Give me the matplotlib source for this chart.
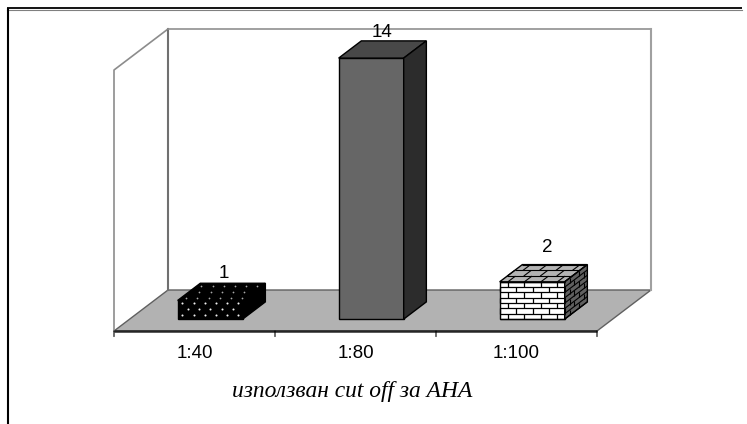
import matplotlib
matplotlib.use('Agg')
import matplotlib.pyplot as plt
from matplotlib.patches import Polygon

categories = ['1:40', '1:80', '1:100']
values = [1, 14, 2]
value_labels = ['1', '14', '2']
axis_title = 'използван cut off за АНА'
y_max = 14

W, H = 747, 424
fig = plt.figure(figsize=(W / 100, H / 100), dpi=100)

# frame of the whole chart: only top and left are there
bg = fig.add_axes([0, 0, 1, 1])
bg.set_xlim(0, W)
bg.set_ylim(H, 0)
bg.axis('off')
bg.plot([7, 742], [9.5, 9.5], color='#808080', lw=0.8)
bg.plot([7.5, 7.5], [8, H], color='black', lw=1.5, solid_capstyle='butt')
bg.plot([7, 742], [8.3, 8.3], color='black', lw=1.3, solid_capstyle='butt')

# plot area: x in categories, y in values, front edge of the floor at y=0
x0, x1, y0, y1 = 114, 597, 331, 70
ax = fig.add_axes([x0 / W, 1 - y0 / H, (x1 - x0) / W, (y0 - y1) / H])
ax.set_xlim(0, len(categories))
ax.set_ylim(0, y_max)
ax.axis('off')

# oblique projection of the depth axis, in data units
dx = 54 / ((x1 - x0) / len(categories))
dy = 41 / ((y0 - y1) / y_max)
px_x = (x1 - x0) / len(categories)
px_y = (y0 - y1) / y_max


def proj(x, v, d):
    return x + d * dx, v + d * dy


def quad(pts, **kw):
    p = Polygon([proj(*q) for q in pts], closed=True, clip_on=False, **kw)
    ax.add_patch(p)
    return p


n = len(categories)
quad([(0, 0, 0), (0, 0, 1), (n, 0, 1), (n, 0, 0)], fc='#b2b2b2', ec='#606060', lw=1)
# walls
ax.plot(*zip(*[proj(0, 0, 0), proj(0, y_max, 0), proj(0, y_max, 1)]),
        color='#8c8c8c', lw=1.2, clip_on=False)
ax.plot(*zip(*[proj(0, 0, 1), proj(0, y_max, 1)]), color='#707070', lw=1.5, clip_on=False)
ax.plot(*zip(*[proj(0, y_max, 1), proj(n, y_max, 1)]), color='#909090', lw=1.2, clip_on=False)
ax.plot(*zip(*[proj(n, y_max, 1), proj(n, 0, 1)]), color='#a0a0a0', lw=1.5, clip_on=False)

# category axis
ax.plot([0, n], [0, 0], color='#262626', lw=1.8, clip_on=False, solid_capstyle='butt')
for i in range(n + 1):
    ax.annotate('', xy=(i, 0), xytext=(0, -4), textcoords='offset points', annotation_clip=False,
                arrowprops=dict(arrowstyle='-', color='black', lw=0.8, shrinkA=0, shrinkB=0))
for i, c in enumerate(categories):
    ax.annotate(c, xy=(i + 0.5, 0), xytext=(0, -23), textcoords='offset pixels',
                annotation_clip=False, ha='center', va='center',
                family='Liberation Sans', fontsize=13.5, color='black')
ax.annotate(axis_title, xy=(n / 2, 0), xytext=(-3, -61), textcoords='offset pixels',
            annotation_clip=False, ha='center', va='center', family='Liberation Serif',
            style='italic', fontsize=16.9, color='black')

bar_w = 0.404
d_front, d_back = 0.29, 0.71
label_dx = [13, 10, 14]
label_dy = [10, 8, 17]


def bricks(origin, ex, ey, w, h, color='black', lw=0.9, row_h=5.6, brick=16.5):
    # mortar lines on one face, position = origin + s*ex + t*ey
    rows = max(1, int(round(h / row_h)))
    segs = []
    for r in range(rows + 1):
        t = r * h / rows
        segs.append(((0, t), (w, t)))
    for r in range(rows):
        s = 0 if r % 2 else brick / 2
        while s < w:
            segs.append(((s, r * h / rows), (s, (r + 1) * h / rows)))
            s += brick
    for a, b in segs:
        ax.plot([origin[0] + a[0] * ex[0] + a[1] * ey[0], origin[0] + b[0] * ex[0] + b[1] * ey[0]],
                [origin[1] + a[0] * ex[1] + a[1] * ey[1], origin[1] + b[0] * ex[1] + b[1] * ey[1]],
                color=color, lw=lw, clip_on=False, solid_capstyle='butt')


depth = d_back - d_front
for i, v in enumerate(values):
    l = i + 0.5 - bar_w / 2
    r = i + 0.5 + bar_w / 2
    front = [(l, 0, d_front), (r, 0, d_front), (r, v, d_front), (l, v, d_front)]
    top = [(l, v, d_front), (r, v, d_front), (r, v, d_back), (l, v, d_back)]
    side = [(r, 0, d_front), (r, v, d_front), (r, v, d_back), (r, 0, d_back)]
    style = dict(ec='black', lw=1)
    if i == 0:
        quad(front, fc='black', **style)
        quad(top, fc='black', **style)
        quad(side, fc='black', **style)
        # pale dots on the black faces
        fx, fy = [], []
        for row in range(3):
            for col in range(6):
                s = 0.03 + col * 11.2 / px_x + (row % 2) * 5.6 / px_x
                if s < bar_w:
                    a, b = proj(l + s, 0.2 + row * 6 / px_y, d_front)
                    fx.append(a)
                    fy.append(b)
        ax.scatter(fx, fy, s=2.2, c='#f0f0f0', lw=0, clip_on=False, zorder=5)
        tx, ty = [], []
        for row in range(3):
            for col in range(6):
                d = d_front + (row + 0.5) * depth / 3
                s = 0.03 + col * 11.2 / px_x + (row % 2) * 5.6 / px_x
                if s < bar_w:
                    a, b = proj(l + s, v, d)
                    tx.append(a)
                    ty.append(b)
        ax.scatter(tx, ty, s=1.6, c='#a8a8a8', lw=0, clip_on=False, zorder=5)
    elif i == 1:
        quad(front, fc='#666666', **style)
        quad(top, fc='#484848', **style)
        quad(side, fc='#2c2c2c', **style)
    else:
        quad(front, fc='white', **style)
        quad(top, fc='#b4b4b4', **style)
        quad(side, fc='#606060', **style)
        bricks(proj(l, 0, d_front), (1 / px_x, 0), (0, 1 / px_y), bar_w * px_x, v * px_y)
        bricks(proj(l, v, d_front), (1 / px_x, 0), (dx * depth / 17, dy * depth / 17),
               bar_w * px_x, 17, lw=0.8)
        bricks(proj(r, 0, d_front), (dx * depth / 21, dy * depth / 21), (0, 1 / px_y),
               21, v * px_y, lw=0.8, brick=9)
    xt, yt = proj(i + 0.5, v, d_back)
    ax.annotate(value_labels[i], xy=(xt, yt), xytext=(label_dx[i] - 22, label_dy[i]),
                textcoords='offset pixels', annotation_clip=False, ha='center', va='center',
                family='Liberation Sans', fontsize=13.5, color='black')

plt.savefig('out.png', dpi=100)
